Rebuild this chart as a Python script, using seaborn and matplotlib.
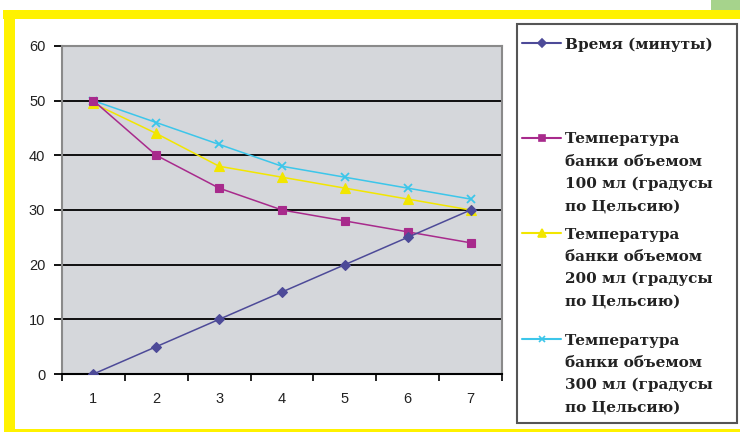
import numpy as np
import pandas as pd
import matplotlib
matplotlib.use("Agg")
import matplotlib.pyplot as plt
from matplotlib.lines import Line2D
from matplotlib.patches import Rectangle
import seaborn as sns

# -----------------------------------------------------------------------------
# Data
# -----------------------------------------------------------------------------
x_vals = [1, 2, 3, 4, 5, 6, 7]
time_min = [0, 5, 10, 15, 20, 25, 30]
temp_100 = [50, 40, 34, 30, 28, 26, 24]
temp_200 = [49.5, 44, 38, 36, 34, 32, 30]
temp_300 = [50, 46, 42, 38, 36, 34, 32]

labels = [
    "Время (минуты)",
    "Температура\nбанки объемом\n100 мл (градусы\nпо Цельсию)",
    "Температура\nбанки объемом\n200 мл (градусы\nпо Цельсию)",
    "Температура\nбанки объемом\n300 мл (градусы\nпо Цельсию)",
]
series = [time_min, temp_100, temp_200, temp_300]
colors = ["#4d4a98", "#a82a8c", "#f2e600", "#3cc6ea"]
markers = ["D", "s", "^", "x"]
msizes = [5, 6, 7, 6]

# -----------------------------------------------------------------------------
# Plotting attributes
# -----------------------------------------------------------------------------
sns.set_theme(style="white")
plt.rcParams["font.family"] = ["Liberation Sans", "DejaVu Sans"]

W, H = 740, 432
fig = plt.figure(figsize=(W / 100, H / 100), dpi=100)
fig.patch.set_facecolor("white")


def fx(x):
    return x / W


def fy(y):
    return 1 - y / H


# frame decorations
fig.patches.append(Rectangle((fx(711), fy(10)), fx(29), 10 / H, transform=fig.transFigure,
                             facecolor="#a6d38c", edgecolor="none", zorder=0))
fig.patches.append(Rectangle((fx(3), fy(19)), fx(737), 9 / H, transform=fig.transFigure,
                             facecolor="#fff200", edgecolor="none", zorder=0))
fig.patches.append(Rectangle((fx(4), 0), fx(11), fy(19), transform=fig.transFigure,
                             facecolor="#fff200", edgecolor="none", zorder=0))
fig.patches.append(Rectangle((fx(4), 0), fx(736), 3.5 / H, transform=fig.transFigure,
                             facecolor="#fff200", edgecolor="none", zorder=0))

ax = fig.add_axes([fx(62), fy(374), fx(502 - 62), (374 - 46) / H])
ax.set_facecolor("#d5d7db")

for i in range(4):
    df = pd.DataFrame({"x": x_vals, "y": series[i]})
    sns.lineplot(x="x", y="y", data=df, ax=ax, color=colors[i], lw=1.1,
                 marker=markers[i], markersize=msizes[i], markeredgecolor=colors[i],
                 markeredgewidth=1.3 if markers[i] == "x" else 0.8,
                 errorbar=None, zorder=3 + (3 - i))

ax.set_xlim(0.5, 7.5)
ax.set_ylim(0, 60)
ax.set(xlabel=None, ylabel=None)
ax.set_yticks(np.arange(0, 61, 10))
ax.set_xticks(x_vals)
ax.set_xticks(np.arange(0.5, 7.6, 1), minor=True)
for yv in range(10, 60, 10):
    ax.axhline(yv, color="black", lw=1.3, zorder=1)

for s in ["left", "right", "top"]:
    ax.spines[s].set_color("#8a8a8a")
    ax.spines[s].set_linewidth(1.5)
ax.spines["bottom"].set_color("black")
ax.spines["bottom"].set_linewidth(1.5)

ax.tick_params(axis="y", which="major", left=True, length=6, width=1.3, color="black",
               pad=6, labelsize=10.5, labelcolor="#222222")
ax.tick_params(axis="x", which="major", bottom=False, length=0, pad=13,
               labelsize=10.5, labelcolor="#222222")
ax.tick_params(axis="x", which="minor", bottom=True, length=5, width=1.2, color="black")

# -----------------------------------------------------------------------------
# Legend (Excel style, spread down the right side)
# -----------------------------------------------------------------------------
fig.patches.append(Rectangle((fx(517), fy(423)), fx(737 - 517), (423 - 24) / H,
                             transform=fig.transFigure, facecolor="white",
                             edgecolor="#555555", lw=1.5, zorder=1))
first_line_y = [43, 138, 233, 339]
line_step = 22.4
for i in range(4):
    yc = first_line_y[i]
    fig.add_artist(Line2D([fx(522), fx(561)], [fy(yc), fy(yc)], transform=fig.transFigure,
                          color=colors[i], lw=1.5, marker=None))
    fig.add_artist(Line2D([fx(541.5)], [fy(yc)], transform=fig.transFigure,
                          color=colors[i], marker=markers[i], markersize=msizes[i] - 1,
                          markeredgecolor=colors[i], markeredgewidth=1.2, ls="none"))
    for j, line in enumerate(labels[i].split("\n")):
        fig.text(fx(565), fy(yc + j * line_step), line, ha="left", va="center_baseline",
                 fontsize=11, fontweight="bold", family=["DejaVu Serif"],
                 color="#222222")

fig.savefig("out.png", dpi=100)
